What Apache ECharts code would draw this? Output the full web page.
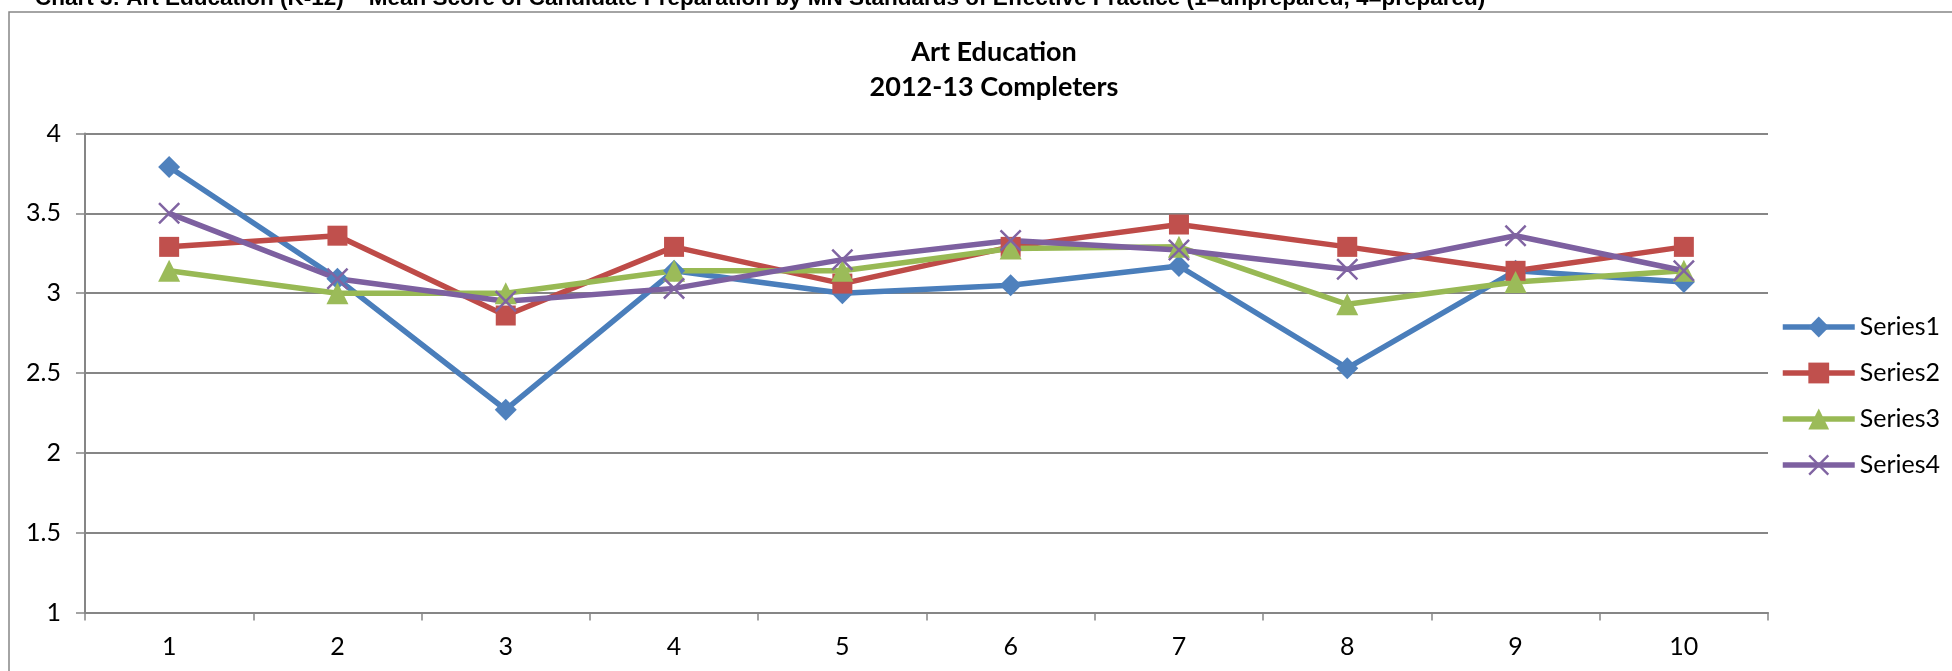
<!DOCTYPE html>
<html>
<head>
<meta charset="utf-8">
<script src="https://cdn.jsdelivr.net/npm/echarts@6/dist/echarts.min.js"></script>
<style>
html,body{margin:0;padding:0;background:#fff;}
#c{width:1952px;height:671px;}
</style>
</head>
<body>
<div id="c"></div>
<script>
const captionText = 'Chart 3: Art Education (K-12) \u2013 Mean Score of Candidate Preparation by MN Standards of Effective Practice (1=unprepared, 4=prepared)';
const titleLines = ['Art Education', '2012-13 Completers'];
const categories = ['1','2','3','4','5','6','7','8','9','10'];
const seriesNames = ['Series1','Series2','Series3','Series4'];
const series1 = [3.79, 3.09, 2.27, 3.14, 3.00, 3.05, 3.17, 2.53, 3.14, 3.07];
const series2 = [3.29, 3.36, 2.86, 3.29, 3.06, 3.29, 3.43, 3.29, 3.14, 3.29];
const series3 = [3.14, 3.00, 3.00, 3.14, 3.14, 3.28, 3.29, 2.93, 3.07, 3.14];
const series4 = [3.50, 3.09, 2.95, 3.03, 3.21, 3.33, 3.27, 3.15, 3.36, 3.14];
const yMin = 1, yMax = 4, yStep = 0.5;

const lineColors = ['#4A7EBB', '#BE4B48', '#98B954', '#7D60A0'];
const markColors = ['#4F81BD', '#C0504D', '#9BBB59', '#8064A2'];
const xPath = 'path://M1.6,0 L10,8.4 L18.4,0 L20,1.6 L11.6,10 L20,18.4 L18.4,20 L10,11.6 L1.6,20 L0,18.4 L8.4,10 L0,1.6 Z';
const symbols = ['diamond', 'rect', 'triangle', xPath];
const symSizes = [22, 20, 22, 22];
const dataSets = [series1, series2, series3, series4];
const FONT = 'Lato, "Open Sans", sans-serif';

const chart = echarts.init(document.getElementById('c'), null, {renderer: 'canvas'});
chart.setOption({
  animation: false,
  backgroundColor: '#fff',
  title: {
    text: titleLines.join('\n'),
    left: 989, textAlign: 'center', top: 30,
    textStyle: {fontFamily: FONT, fontSize: 27, fontWeight: 'bold', color: '#000', lineHeight: 35}
  },
  graphic: [
    {type: 'rect', shape: {x: 9, y: 12, width: 2100, height: 800}, style: {fill: 'none', stroke: '#868686', lineWidth: 1.5}, silent: true},
    {type: 'text', x: 35, y: 10, style: {text: captionText, fontFamily: '"Liberation Sans", Arial, sans-serif', fontSize: 22.5, fontWeight: 'bold', fill: '#000', verticalAlign: 'bottom'}}
  ],
  legend: {
    orient: 'vertical', left: 1775, top: 309,
    itemWidth: 72, itemHeight: 26, itemGap: 20, itemTextGap: 3,
    lineStyle: {width: 5.5},
    textStyle: {fontFamily: FONT, fontSize: 25, color: '#000', lineHeight: 26},
    data: seriesNames
  },
  grid: {left: 85, right: 184, top: 133.5, bottom: 58.5, containLabel: false},
  xAxis: {
    type: 'category', data: categories, boundaryGap: true,
    axisLine: {lineStyle: {color: '#868686', width: 2}},
    axisTick: {show: true, length: 8, lineStyle: {color: '#868686', width: 1.5}},
    axisLabel: {margin: 22, fontFamily: FONT, fontSize: 25, color: '#000'},
    splitLine: {show: false}
  },
  yAxis: {
    type: 'value', min: yMin, max: yMax, interval: yStep,
    axisLine: {show: true, lineStyle: {color: '#868686', width: 2}},
    axisTick: {show: true, length: 9, lineStyle: {color: '#868686', width: 1.5}},
    axisLabel: {margin: 24, fontFamily: FONT, fontSize: 25, color: '#000'},
    splitLine: {lineStyle: {color: '#868686', width: 2}}
  },
  series: dataSets.map((d, i) => ({
    name: seriesNames[i], type: 'line', data: d,
    symbol: symbols[i], symbolSize: symSizes[i], showAllSymbol: true,
    lineStyle: {color: lineColors[i], width: 5.5},
    itemStyle: {color: markColors[i], borderWidth: 0},
    emphasis: {disabled: true}
  }))
});
</script>
</body>
</html>
